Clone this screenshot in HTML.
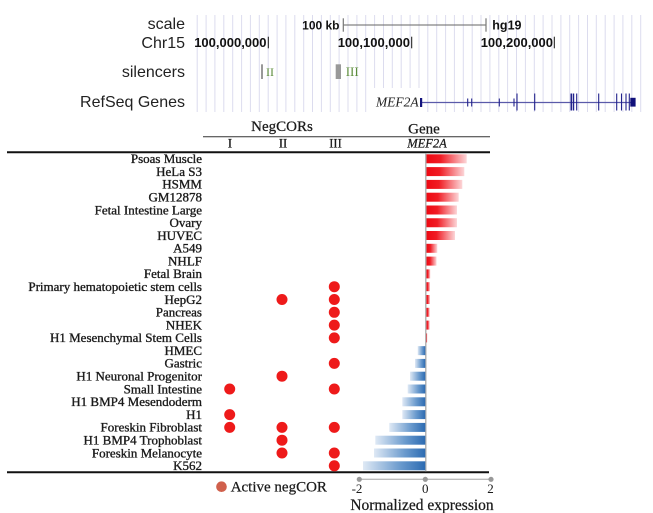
<!DOCTYPE html>
<html><head><meta charset="utf-8"><style>
html,body{margin:0;padding:0;background:#fff;}
svg{display:block;}
.sans{font-family:"Liberation Sans",Arial,sans-serif;}
.serif{font-family:"Liberation Serif","Times New Roman",serif;}
</style></head><body>
<svg width="653" height="513" viewBox="0 0 653 513" xmlns="http://www.w3.org/2000/svg">
<defs>
<linearGradient id="rg" x1="0" y1="0" x2="1" y2="0">
<stop offset="0" stop-color="#ee0812"/><stop offset="0.35" stop-color="#f01c24"/><stop offset="1" stop-color="#fcd6d8"/>
</linearGradient>
<linearGradient id="bg" x1="0" y1="0" x2="1" y2="0">
<stop offset="0" stop-color="#dfe9f5"/><stop offset="0.6" stop-color="#6a9acd"/><stop offset="1" stop-color="#2c6bb2"/>
</linearGradient>
</defs>
<rect width="653" height="513" fill="#fff"/>

<!-- genome browser grid -->
<g stroke="#dcdcee" stroke-width="1">
<line x1="197.2" y1="15" x2="197.2" y2="112"/><line x1="206.1" y1="15" x2="206.1" y2="112"/><line x1="214.9" y1="15" x2="214.9" y2="112"/><line x1="223.8" y1="15" x2="223.8" y2="112"/><line x1="232.7" y1="15" x2="232.7" y2="112"/><line x1="241.6" y1="15" x2="241.6" y2="112"/><line x1="250.4" y1="15" x2="250.4" y2="112"/><line x1="259.3" y1="15" x2="259.3" y2="112"/><line x1="268.2" y1="15" x2="268.2" y2="112"/><line x1="277.1" y1="15" x2="277.1" y2="112"/><line x1="285.9" y1="15" x2="285.9" y2="112"/><line x1="294.8" y1="15" x2="294.8" y2="112"/><line x1="303.7" y1="15" x2="303.7" y2="112"/><line x1="312.5" y1="15" x2="312.5" y2="112"/><line x1="321.4" y1="15" x2="321.4" y2="112"/><line x1="330.3" y1="15" x2="330.3" y2="112"/><line x1="339.1" y1="15" x2="339.1" y2="112"/><line x1="348.0" y1="15" x2="348.0" y2="112"/><line x1="356.9" y1="15" x2="356.9" y2="112"/><line x1="365.7" y1="15" x2="365.7" y2="112"/><line x1="374.6" y1="15" x2="374.6" y2="112"/><line x1="383.5" y1="15" x2="383.5" y2="112"/><line x1="392.3" y1="15" x2="392.3" y2="112"/><line x1="401.2" y1="15" x2="401.2" y2="112"/><line x1="410.1" y1="15" x2="410.1" y2="112"/><line x1="419.0" y1="15" x2="419.0" y2="112"/><line x1="427.8" y1="15" x2="427.8" y2="112"/><line x1="436.7" y1="15" x2="436.7" y2="112"/><line x1="445.6" y1="15" x2="445.6" y2="112"/><line x1="454.4" y1="15" x2="454.4" y2="112"/><line x1="463.3" y1="15" x2="463.3" y2="112"/><line x1="472.2" y1="15" x2="472.2" y2="112"/><line x1="481.0" y1="15" x2="481.0" y2="112"/><line x1="489.9" y1="15" x2="489.9" y2="112"/><line x1="498.8" y1="15" x2="498.8" y2="112"/><line x1="507.6" y1="15" x2="507.6" y2="112"/><line x1="516.5" y1="15" x2="516.5" y2="112"/><line x1="525.4" y1="15" x2="525.4" y2="112"/><line x1="534.3" y1="15" x2="534.3" y2="112"/><line x1="543.1" y1="15" x2="543.1" y2="112"/><line x1="552.0" y1="15" x2="552.0" y2="112"/><line x1="560.9" y1="15" x2="560.9" y2="112"/><line x1="569.7" y1="15" x2="569.7" y2="112"/><line x1="578.6" y1="15" x2="578.6" y2="112"/><line x1="587.5" y1="15" x2="587.5" y2="112"/><line x1="596.3" y1="15" x2="596.3" y2="112"/><line x1="605.2" y1="15" x2="605.2" y2="112"/><line x1="614.1" y1="15" x2="614.1" y2="112"/><line x1="622.9" y1="15" x2="622.9" y2="112"/><line x1="631.8" y1="15" x2="631.8" y2="112"/><line x1="640.7" y1="15" x2="640.7" y2="112"/>
</g>

<!-- track labels -->
<g class="sans" font-size="16" fill="#222" text-anchor="end">
<text x="185" y="29">scale</text>
<text x="185" y="48">Chr15</text>
<text x="185" y="77">silencers</text>
<text x="185" y="107">RefSeq Genes</text>
</g>

<!-- scale bar -->
<text class="sans" x="339.5" y="29.5" font-size="12" font-weight="bold" fill="#111" text-anchor="end">100 kb</text>
<line x1="343.3" y1="25" x2="486" y2="25" stroke="#666" stroke-width="1"/>
<line x1="343.3" y1="18.3" x2="343.3" y2="31.7" stroke="#777" stroke-width="1.2"/>
<line x1="486" y1="18.3" x2="486" y2="31.7" stroke="#777" stroke-width="1.2"/>
<text class="sans" x="492.3" y="29.5" font-size="12.5" font-weight="bold" fill="#111">hg19</text>

<!-- chr positions -->
<g class="sans" font-size="13" font-weight="bold" fill="#111" text-anchor="end">
<text x="266.5" y="47">100,000,000</text>
<text x="410" y="47">100,100,000</text>
<text x="553" y="47">100,200,000</text>
</g>
<g stroke="#111" stroke-width="1">
<line x1="268.3" y1="36.7" x2="268.3" y2="48.3"/>
<line x1="411.7" y1="36.7" x2="411.7" y2="48.3"/>
<line x1="554.3" y1="36.7" x2="554.3" y2="48.3"/>
</g>

<!-- silencers -->
<rect x="261" y="64.3" width="2" height="14.7" fill="#999"/>
<rect x="335.7" y="64.3" width="5.3" height="14.7" fill="#999"/>
<text class="serif" x="266" y="76" font-size="12" fill="#5b8c3a">II</text>
<text class="serif" x="345.7" y="76" font-size="13" fill="#5b8c3a">III</text>

<!-- RefSeq gene -->
<rect x="372" y="88" width="48" height="24" fill="#fff"/>
<text class="serif" x="418.7" y="106.5" font-size="13.5" font-style="italic" fill="#222" text-anchor="end">MEF2A</text>
<line x1="420" y1="102.5" x2="635" y2="102.5" stroke="#5a5aaa" stroke-width="1.2"/>
<rect x="420" y="98" width="2.2" height="9" fill="#14147e"/>
<g stroke="#22228c" stroke-width="1.1">
<line x1="467.7" y1="98.5" x2="467.7" y2="106.5"/>
<line x1="471.7" y1="98.5" x2="471.7" y2="106.5"/>
<line x1="499.3" y1="98.5" x2="499.3" y2="106.5"/>
<line x1="514" y1="98.5" x2="514" y2="106.5"/>
<line x1="517" y1="93.5" x2="517" y2="110.5"/>
<line x1="534.7" y1="93.5" x2="534.7" y2="110.5"/>
<line x1="571.3" y1="93.5" x2="571.3" y2="110.5" stroke-width="1.6"/>
<line x1="573.5" y1="93.5" x2="573.5" y2="110.5" stroke-width="1.4"/>
<line x1="576.7" y1="93.5" x2="576.7" y2="110.5"/>
<line x1="598.7" y1="93.5" x2="598.7" y2="110.5"/>
<line x1="616.7" y1="93.5" x2="616.7" y2="110.5"/>
<line x1="621.5" y1="93.5" x2="621.5" y2="110.5"/>
<line x1="626" y1="93.5" x2="626" y2="110.5"/>
<line x1="629.3" y1="93.5" x2="629.3" y2="110.5"/>
</g>
<rect x="630.3" y="97.8" width="5.3" height="8.8" fill="#10107a"/>

<!-- table header -->
<g class="serif" fill="#1a1a1a" stroke="#1a1a1a" stroke-width="0.25">
<text x="282" y="131" font-size="15" text-anchor="middle">NegCORs</text>
<text x="424" y="133.5" font-size="15" text-anchor="middle">Gene</text>
<text x="230" y="147.5" font-size="12.5" text-anchor="middle">I</text>
<text x="283" y="147.5" font-size="12.5" text-anchor="middle">II</text>
<text x="335.5" y="147.5" font-size="12.5" text-anchor="middle">III</text>
<text x="427" y="147.5" font-size="12.5" font-style="italic" text-anchor="middle">MEF2A</text>
</g>
<line x1="203" y1="136.7" x2="490" y2="136.7" stroke="#333" stroke-width="1"/>
<line x1="7" y1="152.3" x2="490" y2="152.3" stroke="#111" stroke-width="2"/>
<line x1="7" y1="472.3" x2="489" y2="472.3" stroke="#111" stroke-width="2"/>

<!-- zero line -->
<line x1="425.8" y1="153" x2="425.8" y2="471.5" stroke="#aaa" stroke-width="1.3"/>

<!-- row labels -->
<g class="serif" font-size="13" fill="#1a1a1a" stroke="#1a1a1a" stroke-width="0.35" text-anchor="end">
<text x="202" y="163.1">Psoas Muscle</text>
<text x="202" y="175.9">HeLa S3</text>
<text x="202" y="188.7">HSMM</text>
<text x="202" y="201.5">GM12878</text>
<text x="202" y="214.3">Fetal Intestine Large</text>
<text x="202" y="227.1">Ovary</text>
<text x="202" y="239.8">HUVEC</text>
<text x="202" y="252.6">A549</text>
<text x="202" y="265.4">NHLF</text>
<text x="202" y="278.2">Fetal Brain</text>
<text x="202" y="291.0">Primary hematopoietic stem cells</text>
<text x="202" y="303.8">HepG2</text>
<text x="202" y="316.6">Pancreas</text>
<text x="202" y="329.4">NHEK</text>
<text x="202" y="342.2">H1 Mesenchymal Stem Cells</text>
<text x="202" y="355.0">HMEC</text>
<text x="202" y="367.7">Gastric</text>
<text x="202" y="380.5">H1 Neuronal Progenitor</text>
<text x="202" y="393.3">Small Intestine</text>
<text x="202" y="406.1">H1 BMP4 Mesendoderm</text>
<text x="202" y="418.9">H1</text>
<text x="202" y="431.7">Foreskin Fibroblast</text>
<text x="202" y="444.5">H1 BMP4 Trophoblast</text>
<text x="202" y="457.3">Foreskin Melanocyte</text>
<text x="202" y="470.1">K562</text>
</g>

<!-- red bars -->
<g fill="url(#rg)">
<rect x="426.5" y="154.3" width="40.2" height="9"/>
<rect x="426.5" y="167.1" width="37.8" height="9"/>
<rect x="426.5" y="179.9" width="35.8" height="9"/>
<rect x="426.5" y="192.7" width="32.2" height="9"/>
<rect x="426.5" y="205.5" width="30.5" height="9"/>
<rect x="426.5" y="218.25" width="30.5" height="9"/>
<rect x="426.5" y="231" width="28.5" height="9"/>
<rect x="426.5" y="243.8" width="10.8" height="9"/>
<rect x="426.5" y="256.6" width="10" height="9"/>
<rect x="426.5" y="269.4" width="3.8" height="9"/>
<rect x="426.5" y="282.2" width="3.5" height="9"/>
<rect x="426.5" y="295" width="3.5" height="9"/>
<rect x="426.5" y="307.8" width="3.2" height="9"/>
<rect x="426.5" y="320.6" width="3.2" height="9"/>
<rect x="426.5" y="333.4" width="0.8" height="9"/>
</g>
<!-- blue bars -->
<g fill="url(#bg)">
<rect x="417.7" y="346.15" width="7.6" height="9"/>
<rect x="415" y="358.9" width="10.3" height="9"/>
<rect x="410" y="371.7" width="15.3" height="9"/>
<rect x="407.7" y="384.5" width="17.6" height="9"/>
<rect x="402.3" y="397.3" width="23" height="9"/>
<rect x="402.3" y="410.1" width="23" height="9"/>
<rect x="389.3" y="422.9" width="36" height="9"/>
<rect x="375.3" y="435.7" width="50" height="9"/>
<rect x="374" y="448.5" width="51.3" height="9"/>
<rect x="363" y="461.3" width="62.3" height="9"/>
</g>

<!-- dots -->
<g fill="#ee1a1a">
<circle cx="334.3" cy="286.7" r="5.5"/>
<circle cx="282" cy="299.5" r="5.5"/><circle cx="334.3" cy="299.5" r="5.5"/>
<circle cx="334.3" cy="312.3" r="5.5"/>
<circle cx="334.3" cy="325.1" r="5.5"/>
<circle cx="334.3" cy="337.9" r="5.5"/>
<circle cx="334.3" cy="363.4" r="5.5"/>
<circle cx="282" cy="376.2" r="5.5"/>
<circle cx="229.7" cy="389" r="5.5"/><circle cx="334.3" cy="389" r="5.5"/>
<circle cx="229.7" cy="414.6" r="5.5"/>
<circle cx="229.7" cy="427.4" r="5.5"/><circle cx="282" cy="427.4" r="5.5"/><circle cx="334.3" cy="427.4" r="5.5"/>
<circle cx="282" cy="440.2" r="5.5"/>
<circle cx="282" cy="453" r="5.5"/><circle cx="334.3" cy="453" r="5.5"/>
<circle cx="334.3" cy="465.8" r="5.5"/>
</g>

<!-- legend -->
<circle cx="221.5" cy="486.7" r="5.3" fill="#d0604c"/>
<text class="serif" x="230.7" y="491.5" font-size="15" fill="#1a1a1a" stroke="#1a1a1a" stroke-width="0.25">Active negCOR</text>

<!-- axis -->
<line x1="359.3" y1="479.3" x2="491" y2="479.3" stroke="#bbb" stroke-width="1.3"/>
<g fill="#999">
<circle cx="359.3" cy="479.3" r="2.6"/>
<circle cx="425.3" cy="479.3" r="2.6"/>
<circle cx="491" cy="479.3" r="2.6"/>
</g>
<g class="serif" font-size="13" fill="#1a1a1a" text-anchor="middle">
<text x="357" y="493">-2</text>
<text x="425.3" y="493">0</text>
<text x="490.5" y="493">2</text>
</g>
<text class="serif" x="422" y="510" font-size="15.5" fill="#1a1a1a" stroke="#1a1a1a" stroke-width="0.25" text-anchor="middle">Normalized expression</text>
</svg>
</body></html>
